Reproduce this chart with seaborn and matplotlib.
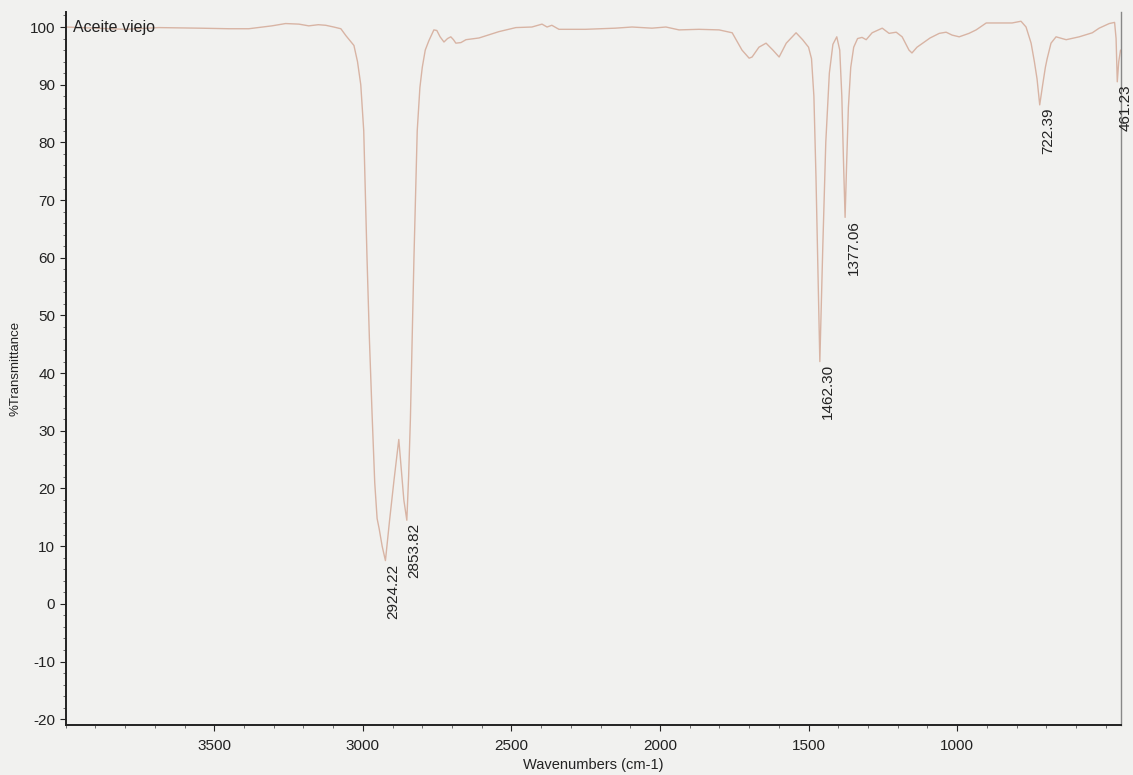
import matplotlib
matplotlib.use("Agg")
import matplotlib.pyplot as plt
from matplotlib.ticker import MultipleLocator
import seaborn as sns
import pandas as pd

# ---- data ----
wavenumber = [4000, 3900, 3800, 3687, 3552, 3450, 3384, 3306, 3260, 3215, 3182, 3150, 3125,
              3098, 3074, 3057, 3030, 3018, 3007, 2997, 2986, 2978, 2969, 2960, 2952, 2945,
              2935, 2924, 2910, 2895, 2879, 2870, 2862, 2852, 2846, 2840, 2828, 2817, 2808,
              2800, 2790, 2778, 2761, 2751, 2740, 2727, 2715, 2704, 2695, 2687, 2670, 2653,
              2609, 2542, 2485, 2431, 2397, 2380, 2364, 2340, 2251, 2150, 2094, 2027, 1980,
              1936, 1869, 1801, 1757, 1724, 1700, 1690, 1667, 1643, 1620, 1599, 1575, 1542,
              1520, 1500, 1490, 1482, 1475, 1468, 1462, 1452, 1442, 1430, 1418, 1405, 1395,
              1388, 1382, 1377, 1372, 1366, 1358, 1348, 1335, 1320, 1306, 1286, 1252, 1229,
              1205, 1185, 1162, 1152, 1135, 1091, 1060, 1037, 1017, 993, 960, 936, 902, 859,
              815, 785, 768, 751, 740, 731, 722, 712, 703, 697, 684, 667, 633, 589, 545, 522,
              488, 470, 465, 461, 456, 450]
transmittance = [100.0, 99.8, 99.6, 99.9, 99.8, 99.7, 99.7, 100.2, 100.6, 100.5, 100.2, 100.4, 100.3,
                 100.0, 99.7, 98.5, 96.8, 94.0, 90.0, 82.0, 60.0, 46.0, 33.0, 21.0, 14.8, 13.0,
                 10.0, 7.5, 14.5, 21.5, 28.5, 23.0, 18.0, 14.5, 22.0, 32.0, 60.0, 82.0, 89.5,
                 93.0, 96.0, 97.6, 99.5, 99.4, 98.3, 97.4, 98.0, 98.3, 97.8, 97.2, 97.3, 97.8,
                 98.1, 99.2, 99.9, 100.0, 100.5, 100.0, 100.3, 99.6, 99.6, 99.8, 100.0, 99.8, 100.0,
                 99.5, 99.6, 99.5, 99.0, 96.0, 94.6, 94.8, 96.5, 97.2, 96.0, 94.8, 97.2, 99.0,
                 97.8, 96.5, 94.5, 88.0, 74.0, 57.0, 42.0, 62.0, 80.0, 92.0, 97.0, 98.3, 96.0,
                 88.0, 76.0, 67.0, 76.0, 86.0, 93.0, 96.5, 98.0, 98.2, 97.8, 99.0, 99.8, 98.9,
                 99.1, 98.3, 96.0, 95.5, 96.5, 98.1, 98.9, 99.1, 98.6, 98.3, 98.9, 99.5, 100.7, 100.7,
                 100.7, 101.0, 100.0, 97.2, 94.0, 91.0, 86.5, 90.0, 93.0, 94.5, 97.2, 98.3, 97.8, 98.3, 99.0, 99.8,
                 100.6, 100.8, 98.0, 90.5, 94.0, 96.0]

peak_labels = ["2924.22", "2853.82", "1462.30", "1377.06", "722.39", "461.23"]
peak_positions = [2924.22, 2853.82, 1462.30, 1377.06, 722.39, 461.23]
peak_values = [7.5, 14.5, 42.0, 67.0, 86.5, 90.5]

sample_name = "Aceite viejo"
x_label = "Wavenumbers (cm-1)"
y_label = "%Transmittance"

# ---- style ----
sns.set_style("ticks")
plt.rcParams["font.family"] = ["Liberation Sans", "DejaVu Sans"]
plt.rcParams["axes.unicode_minus"] = False

bg = "#f1f1ef"
fig = plt.figure(figsize=(11.33, 7.75), dpi=100, facecolor=bg)
ax = fig.add_axes([0.058, 0.0645, 0.931, 0.92])
ax.set_facecolor(bg)

df = pd.DataFrame({"wn": wavenumber, "T": transmittance})
sns.lineplot(data=df, x="wn", y="T", sort=False, ax=ax, color="#d8b4a4", linewidth=1.0)

ax.set_xlim(4000, 450)
ax.set_ylim(-21, 102.6)
ax.xaxis.set_major_locator(MultipleLocator(500))
ax.xaxis.set_minor_locator(MultipleLocator(100))
ax.yaxis.set_major_locator(MultipleLocator(10))
ax.yaxis.set_minor_locator(MultipleLocator(2))
ax.set_xticks([3500, 3000, 2500, 2000, 1500, 1000])
ax.tick_params(axis="both", which="major", labelsize=11, length=4, width=0.8,
               colors="#222222", direction="out")
ax.tick_params(axis="both", which="minor", length=2.5, width=0.6, colors="#555555")
ax.tick_params(axis="x", pad=6)

for side in ["left", "bottom"]:
    ax.spines[side].set_linewidth(1.4)
    ax.spines[side].set_color("#222222")
ax.spines["right"].set_linewidth(1.0)
ax.spines["right"].set_color("#888888")
ax.spines["top"].set_visible(False)

ax.set_xlabel(x_label, fontsize=10.5, color="#222222", labelpad=4)
ax.set_ylabel(y_label, fontsize=9.5, color="#222222", labelpad=6)

ax.text(3975, 100, sample_name, fontsize=11.5, color="#222222", va="center", ha="left")

for lab, pos, val in zip(peak_labels, peak_positions, peak_values):
    ax.annotate(lab, xy=(pos, val), xytext=(6, -2), textcoords="offset points",
                rotation=90, ha="center", va="top", fontsize=11, color="#222222",
                annotation_clip=False)

fig.savefig("out.png", dpi=100, facecolor=bg)
